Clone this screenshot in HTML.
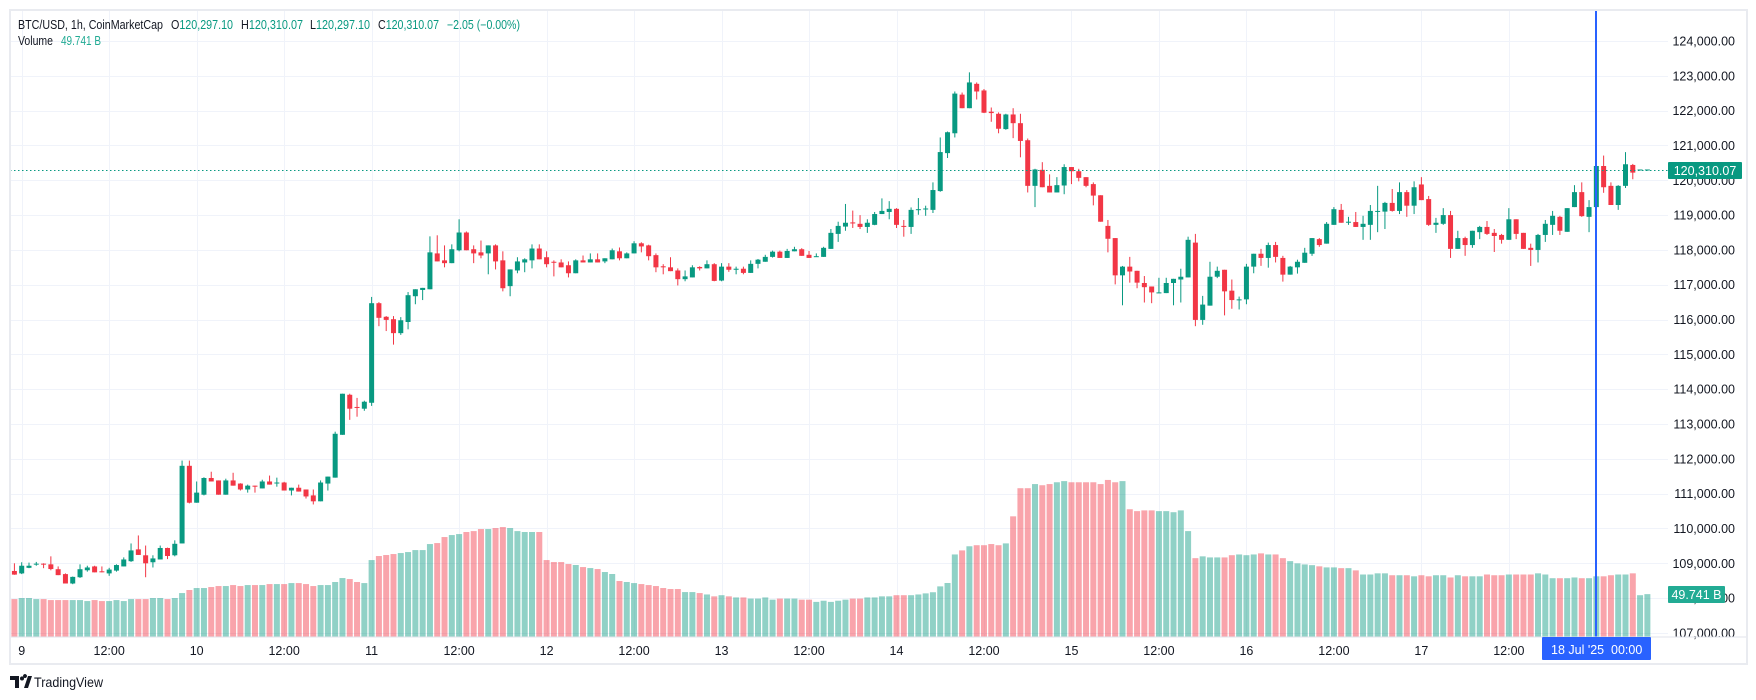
<!DOCTYPE html>
<html><head><meta charset="utf-8"><title>BTC/USD 1h</title>
<style>
html,body{margin:0;padding:0;background:#fff;}
svg{display:block;font-family:"Liberation Sans",sans-serif;}
</style></head>
<body>
<svg id="chart" width="1756" height="700" viewBox="0 0 1756 700" xmlns="http://www.w3.org/2000/svg">
  <rect x="0" y="0" width="1756" height="700" fill="#ffffff"/>
  <g id="grid"></g>
  <g id="volumes"></g>
  <g id="candles"></g>
  <line x1="10" y1="170.5" x2="1668" y2="170.5" stroke="#089981" stroke-width="1" stroke-dasharray="1.5,2.5"/>
  <line x1="1596" y1="10" x2="1596" y2="637" stroke="#2962ff" stroke-width="2"/>
  <g id="priceaxis"></g>
  <g id="timeaxis"></g>
  <line x1="10" y1="637" x2="1747" y2="637" stroke="#e0e3eb" stroke-width="1"/>
  <rect x="10" y="10" width="1737" height="654" fill="none" stroke="#e9ebf0" stroke-width="2"/>

  <rect x="1668" y="162" width="74" height="17" rx="1" fill="#089981"/>
  <text x="1705" y="175" fill="#ffffff" font-size="12.5" text-anchor="middle">120,310.07</text>
  <rect x="1668" y="586" width="57" height="17" rx="1" fill="#22ab94"/>
  <text x="1696.5" y="599" fill="#ffffff" font-size="12.5" text-anchor="middle">49.741 B</text>
  <rect x="1542" y="637" width="109" height="23" rx="1" fill="#2962ff"/>
  <text x="1551" y="654" fill="#ffffff" font-size="12.5">18 Jul '25</text>
  <text x="1611" y="654" fill="#ffffff" font-size="12.5">00:00</text>

  <g font-size="12.5">
    <text x="18" y="29" fill="#131722" textLength="145" lengthAdjust="spacingAndGlyphs">BTC/USD, 1h, CoinMarketCap</text>
    <text x="171" y="29" textLength="62" lengthAdjust="spacingAndGlyphs"><tspan fill="#131722">O</tspan><tspan fill="#089981">120,297.10</tspan></text>
    <text x="241" y="29" textLength="62" lengthAdjust="spacingAndGlyphs"><tspan fill="#131722">H</tspan><tspan fill="#089981">120,310.07</tspan></text>
    <text x="310" y="29" textLength="60" lengthAdjust="spacingAndGlyphs"><tspan fill="#131722">L</tspan><tspan fill="#089981">120,297.10</tspan></text>
    <text x="378" y="29" textLength="61" lengthAdjust="spacingAndGlyphs"><tspan fill="#131722">C</tspan><tspan fill="#089981">120,310.07</tspan></text>
    <text x="447" y="29" fill="#089981" textLength="73" lengthAdjust="spacingAndGlyphs">−2.05 (−0.00%)</text>
    <text x="18" y="45" fill="#131722" textLength="35" lengthAdjust="spacingAndGlyphs">Volume</text>
    <text x="61" y="45" fill="#22ab94" textLength="40" lengthAdjust="spacingAndGlyphs">49.741 B</text>
  </g>

  <g>
    <path d="M10 676 h9 v12 h-4 v-8 h-5 z M20 676 h3 a2 2 0 1 1 0 0.1 z M24 688 l4 -12 h4 l-4 12 z" fill="#131722"/>
    <circle cx="22" cy="678.5" r="2" fill="#131722"/>
    <text x="34" y="687" fill="#131722" font-size="14" textLength="69" lengthAdjust="spacingAndGlyphs">TradingView</text>
  </g>
</svg>
<script>
const opens=[108780,108710,108870,108970,108990,108970,108830,108690,108420,108600,108800,108910,108770,108710,108790,108910,109060,109400,109230,109030,109110,109440,109230,109570,111800,110740,110970,111450,111380,110970,111380,111290,111120,111230,111150,111350,111300,111320,111090,111170,111120,110950,110780,111290,111460,112690,113840,113490,113440,113610,116470,116080,116010,115610,115930,116670,116850,116870,117900,117700,117620,117990,118500,118020,117930,117900,118130,117700,116960,117410,117640,117700,118040,117790,117660,117640,117560,117330,117700,117640,117730,117670,117730,117960,117760,117900,118190,118130,117850,117530,117500,117410,117160,117210,117510,117470,117590,117120,117520,117430,117460,117340,117600,117660,117800,117950,117770,117960,118020,117860,117800,117800,118030,118460,118670,118790,118750,118660,118720,119030,119090,119180,118690,118660,119150,119170,119150,119690,120780,121350,122460,122070,122770,122580,121970,121910,121470,121890,121640,121150,119840,120300,119840,119650,119850,120380,120260,120090,119890,119570,118690,118340,117270,117520,117400,117050,116950,116760,116760,117050,117150,117210,118210,115990,116400,117230,117430,116830,116560,116580,117520,117890,117770,118140,117770,117290,117500,117630,117890,118310,118180,118720,119150,118790,118800,118660,118720,119100,119100,119350,119120,119660,119270,119880,119460,118720,118750,119000,118030,118340,118140,118510,118660,118490,118430,118290,118880,118490,118060,118000,118430,118720,118950,118520,119230,119660,118950,119230,120410,119840,119290,119840,120440,120297,120297];
const highs=[109000,109030,109020,109040,109000,109200,108910,108710,108620,108970,108930,108930,108910,108870,108970,109170,109570,109800,109510,109230,109510,109450,109660,111950,111950,111350,111470,111630,111380,111430,111600,111300,111260,111230,111400,111520,111460,111340,111170,111260,111120,111120,111380,111490,112780,113870,113870,113750,113670,116650,116500,116100,116100,116070,116790,116870,116910,118390,118420,118130,118160,118880,118530,118130,118270,118130,118160,117960,117440,117790,117760,118160,118160,117960,117700,117730,117670,117730,117840,117900,117900,117760,118040,118070,117930,118250,118220,118150,117900,117590,117790,117470,117410,117560,117530,117700,117620,117620,117620,117520,117520,117700,117740,117860,117980,117980,118030,118090,118050,117970,117900,118090,118600,118810,119320,119130,119000,118880,119090,119480,119400,119200,118860,119220,119490,119270,119940,121230,121400,122550,122520,123100,122810,122620,122090,121950,121910,122070,121910,121200,120330,120520,120170,120090,120460,120380,120330,120090,119940,119570,118860,118340,117540,117800,117400,117250,116950,117200,117200,117170,117460,118380,118460,116680,117660,117520,117430,117150,116660,117600,117890,118030,118210,118230,117830,117540,117720,118060,118340,118340,118800,119230,119320,118950,119090,118980,119290,119840,119380,119750,119940,119720,119970,120090,119550,118920,119200,119120,118550,118380,118550,118690,118830,118600,118460,119200,118880,118490,118180,118460,118860,119120,118980,119200,119860,119940,119430,121010,120710,119940,119860,120810,120470,120310,120310];
const lows=[108670,108690,108860,108930,108860,108800,108660,108420,108400,108580,108760,108740,108740,108640,108760,108910,109040,109240,108600,108880,109110,109120,109200,109570,110720,110740,110950,111350,110970,110970,111230,111090,111030,111030,111150,111260,111200,111090,110950,111060,110860,110690,110780,111090,111460,112690,113120,113210,113380,113520,115810,115670,115280,115560,115720,116440,116560,116870,117670,117500,117620,117960,117990,117620,117760,117300,117440,116810,116670,117330,117360,117470,117730,117500,117240,117500,117210,117330,117640,117640,117640,117620,117730,117700,117760,117900,117930,117700,117360,117300,117390,116980,117100,117210,117410,117470,117100,117100,117370,117300,117300,117340,117470,117660,117780,117770,117770,117960,117830,117770,117800,117800,118030,118230,118550,118630,118600,118490,118710,119030,118880,118630,118380,118460,119010,118980,119060,119670,120640,121230,122070,122070,122320,121930,121680,121350,121450,121210,120660,119650,119230,119800,119650,119650,119600,119890,119970,119800,119280,118810,117930,117010,116410,117060,116900,116490,116470,116760,116760,116410,116490,117210,115810,115850,116400,117190,116120,116310,116290,116440,117330,117540,117490,117640,117090,117290,117320,117630,117830,118090,118180,118720,118780,118720,118660,118290,118290,118510,118600,119100,119030,118950,119030,119430,118690,118490,118720,117770,118030,117830,118060,118310,118430,117940,118180,118290,118310,118030,117540,117640,118230,118430,118430,118520,119230,118950,118510,119230,119640,119290,119150,119780,120030,120297,120297];
const closes=[108675,108930,108930,108990,108970,108835,108660,108420,108610,108830,108880,108740,108750,108820,108950,109110,109370,109240,109000,109140,109440,109210,109560,111800,110740,111030,111450,111350,110970,111380,111230,111120,111230,111200,111350,111260,111320,111090,111170,111060,110920,110780,111320,111490,112720,113870,113440,113470,113640,116470,116050,115990,115610,115980,116700,116870,116910,117930,117670,117620,118020,118500,117990,117900,117840,118130,117670,116900,117440,117670,117730,118040,117730,117590,117640,117500,117330,117700,117640,117730,117640,117760,117990,117760,117900,118190,118100,117820,117500,117500,117390,117160,117240,117500,117470,117590,117110,117520,117430,117460,117340,117600,117720,117800,117950,117770,117970,118020,117830,117770,117820,118060,118490,118690,118780,118760,118660,118780,119030,119120,119180,118720,118670,119150,119170,119190,119720,120810,121380,122490,122070,122810,122550,121940,121930,121480,121890,121640,121130,119840,120310,119800,119650,119860,120380,120260,120070,119840,119560,118810,118320,117270,117520,117380,117060,116930,116780,116780,117050,117170,117230,118290,115990,116430,117230,117400,116810,116560,116580,117520,117890,117770,118140,117800,117290,117520,117660,117920,118340,118140,118750,119170,118780,118810,118660,118750,119120,119120,119350,119120,119660,119270,119800,119430,118720,118780,119000,118030,118340,118140,118550,118660,118460,118400,118290,118880,118460,118030,118000,118430,118750,118980,118550,119200,119660,118970,119230,120410,119800,119290,119840,120460,120220,120310,120310];
const volumes=[45.6,46.9,46.9,45.6,45.6,44.4,44.4,44.4,44.4,44.4,43.2,44.4,43.2,43.2,44.4,43.2,45.6,45.6,45.6,46.9,46.9,45.6,46.9,52.9,56.6,59,59,60.2,61.4,61.4,62.6,61.4,62.6,62.6,62.6,63.8,63.8,63.8,65,65,63.8,61.4,62.6,62.6,66.3,71.1,69.9,66.3,65,92.9,97.8,99,100.2,101.4,102.6,105,105,112.3,113.5,120.8,123.2,124.4,126.9,128,130.5,130.5,131.7,132.9,131.7,128,126.9,126.9,126.9,92.9,90.5,90.5,88.1,86.9,84.4,83.2,82,78.4,76,67.5,66.3,65,63.8,62.6,61.4,59,57.8,57.8,54.1,54.1,52.9,51.2,48.9,50.3,48.9,47.6,47.6,46.2,46.2,47.6,44.9,46.2,46.2,46.2,44.9,44.9,42.2,43.6,42.2,43.6,44.9,46.2,46.2,47.6,47.6,48.9,48.9,50.3,50.3,50.3,51.2,52.5,53.9,61,65.1,99.7,104.6,109.6,110.9,110.9,112.3,110.9,113.1,145.9,180,180,185,183.6,185,187.2,188.6,187.2,187.2,187.2,187.2,185,190,187.2,188.6,154.5,152.2,153.1,153.1,152.2,152.2,150.9,153.1,128,95.2,97.4,96.1,96.1,96.1,98.8,99.7,98.8,99.7,101,99.7,99.7,95.2,91.6,88.9,87.6,86.7,85.3,84,84,83.1,83.1,80.4,75.4,75.4,76.8,76.8,74.5,74.5,74.5,73.2,74.5,73.2,74.5,74.5,71.8,74.5,73.2,73.2,73.2,75.4,74.5,74.5,75.4,75.4,75.4,75.4,76.8,75.4,70.9,70.9,70.9,71.8,70.9,70.9,73.2,73.2,74.5,75.4,75.4,76.8,50.3,51.6];
const priceTicks=[124000,123000,122000,121000,120000,119000,118000,117000,116000,115000,114000,113000,112000,111000,110000,109000,108000,107000];
const timeLabels=["9","12:00","10","12:00","11","12:00","12","12:00","13","12:00","14","12:00","15","12:00","16","12:00","17","12:00"];
const timeLabelIndex=[1,13,25,37,49,61,73,85,97,109,121,133,145,157,169,181,193,205];

const NS="http://www.w3.org/2000/svg";
function xOf(i){return 14.41+7.29*i;}
function yOf(p){return 41+(124000-p)*0.03482;}
function vH(v){return v*0.825;}
const VBASE=636.7;
function mk(tag,attrs,parent){const e=document.createElementNS(NS,tag);for(const k in attrs)e.setAttribute(k,attrs[k]);parent.appendChild(e);return e;}
const G=document.getElementById('grid'),V=document.getElementById('volumes'),C=document.getElementById('candles'),PA=document.getElementById('priceaxis'),TA=document.getElementById('timeaxis');

priceTicks.forEach(p=>{
  const y=Math.round(yOf(p))+0.5;
  const l=mk('line',{x1:10,x2:1668,y1:y,y2:y,stroke:'#f0f3fa','stroke-width':1},G);
  
  
  const t=mk('text',{x:1735,y:yOf(p)+4.5,'text-anchor':'end','font-size':12.5,fill:'#131722'},PA);
  t.textContent=p.toLocaleString('en-US',{minimumFractionDigits:2,maximumFractionDigits:2});
  
  
});
timeLabels.forEach((lab,k)=>{
  const x=Math.round(xOf(timeLabelIndex[k]))+0.5;
  const l=mk('line',{x1:x,x2:x,y1:10,y2:637,stroke:'#f0f3fa','stroke-width':1},G);
  
  
  const t=mk('text',{x:xOf(timeLabelIndex[k]),y:655,'text-anchor':'middle','font-size':12.5,fill:'#131722'},TA);
  t.textContent=lab;
  
  
});
for(let i=0;i<closes.length;i++){
  const up=closes[i]>=opens[i];
  const x=xOf(i);
  const vh=vH(volumes[i]);
  const vb=mk('rect',{x:x-3,y:VBASE-vh,width:6,height:vh,fill:up?'rgba(8,153,129,0.45)':'rgba(242,54,69,0.45)'},V);
  
  
  const col=up?'#089981':'#f23645';
  const w=mk('line',{x1:x,x2:x,y1:yOf(highs[i]),y2:yOf(lows[i]),stroke:col,'stroke-width':1},C);
  
  
  const top=yOf(Math.max(opens[i],closes[i])),bot=yOf(Math.min(opens[i],closes[i]));
  const b=mk('rect',{x:x-2.5,y:top,width:5,height:Math.max(1,bot-top),fill:col},C);
  
  
}
</script>
</body></html>
